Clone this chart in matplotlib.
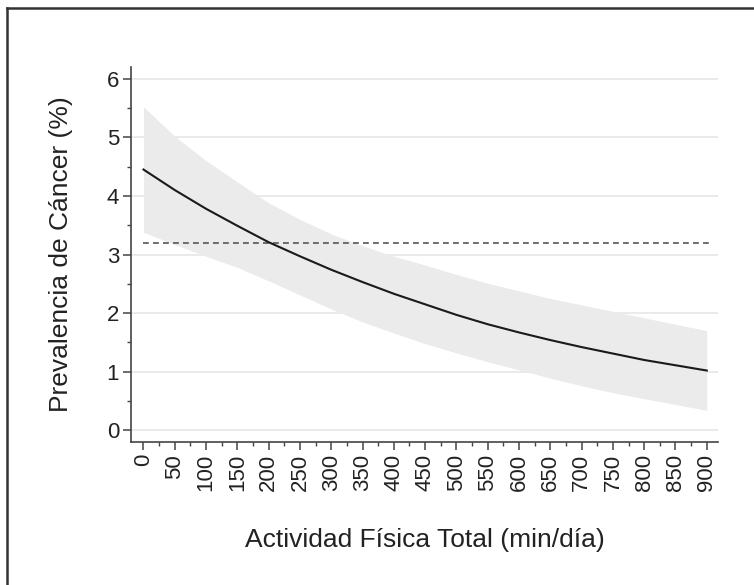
import matplotlib
matplotlib.use("Agg")
import matplotlib.pyplot as plt
from matplotlib.lines import Line2D
from matplotlib.ticker import MultipleLocator

plt.rcParams['font.family'] = ['Liberation Sans', 'DejaVu Sans']

# values
minutes = [0, 50, 100, 150, 200, 250, 300, 350, 400, 450,
           500, 550, 600, 650, 700, 750, 800, 850, 900]
prevalence = [4.45, 4.10, 3.78, 3.49, 3.21, 2.97, 2.74, 2.53, 2.33, 2.15,
              1.97, 1.81, 1.67, 1.54, 1.42, 1.31, 1.20, 1.11, 1.02]
ci_upper = [5.52, 5.02, 4.60, 4.24, 3.88, 3.60, 3.35, 3.15, 2.97, 2.82,
            2.66, 2.51, 2.38, 2.25, 2.14, 2.03, 1.92, 1.81, 1.70]
ci_lower = [3.38, 3.17, 2.97, 2.78, 2.55, 2.31, 2.07, 1.85, 1.66, 1.48,
            1.32, 1.17, 1.03, 0.89, 0.76, 0.64, 0.54, 0.44, 0.34]
reference = 3.2
xticks = list(range(0, 901, 50))
yticks = [0, 1, 2, 3, 4, 5, 6]

fig = plt.figure(figsize=(7.54, 5.85), dpi=100)
ax = fig.add_axes([0.1737, 0.2444, 0.7786, 0.6411])

ax.fill_between(minutes, ci_lower, ci_upper, color='#ebebeb', lw=0, zorder=1)
ax.plot(minutes, prevalence, color='#1a1a1a', lw=1.5, zorder=3)
ax.plot([0, 910], [reference, reference], color='#555555', lw=1.2,
        linestyle=(0, (3.5, 2.5)), zorder=2)

ax.set_xlim(-20, 918)
ax.set_ylim(-0.2, 6.2)
ax.set_xticks(xticks)
ax.set_xticklabels([str(t) for t in xticks], rotation=90, fontsize=16, color='#222222')
ax.set_yticks(yticks)
ax.set_yticklabels([str(t) for t in yticks], fontsize=16, color='#222222')
ax.xaxis.set_minor_locator(MultipleLocator(25))
ax.yaxis.set_minor_locator(MultipleLocator(0.5))
ax.tick_params(which='major', direction='out', length=5.5, width=1.1, color='#444444', pad=3)
ax.tick_params(which='minor', direction='out', length=3, width=1.0, color='#444444')

for y in yticks:
    ax.axhline(y, color='#e6e6e6', lw=1.2, zorder=0)

for side in ['top', 'right']:
    ax.spines[side].set_visible(False)
for side in ['left', 'bottom']:
    ax.spines[side].set_color('#444444')
    ax.spines[side].set_linewidth(1.2)

ax.set_ylabel('Prevalencia de Cáncer (%)', fontsize=19, color='#222222')
ax.set_xlabel('Actividad Física Total (min/día)', fontsize=19, color='#222222')
ax.yaxis.set_label_coords(-0.098, 0.5)
ax.xaxis.set_label_coords(0.5, -0.23)

# frame of the panel (only left and top edges show in the picture)
fig.add_artist(Line2D([7 / 754, 7 / 754], [0, 1 - 8 / 585], color='#333333', lw=1.8))
fig.add_artist(Line2D([7 / 754, 1], [1 - 8 / 585, 1 - 8 / 585], color='#333333', lw=1.8))

fig.savefig('out.png', dpi=100)
